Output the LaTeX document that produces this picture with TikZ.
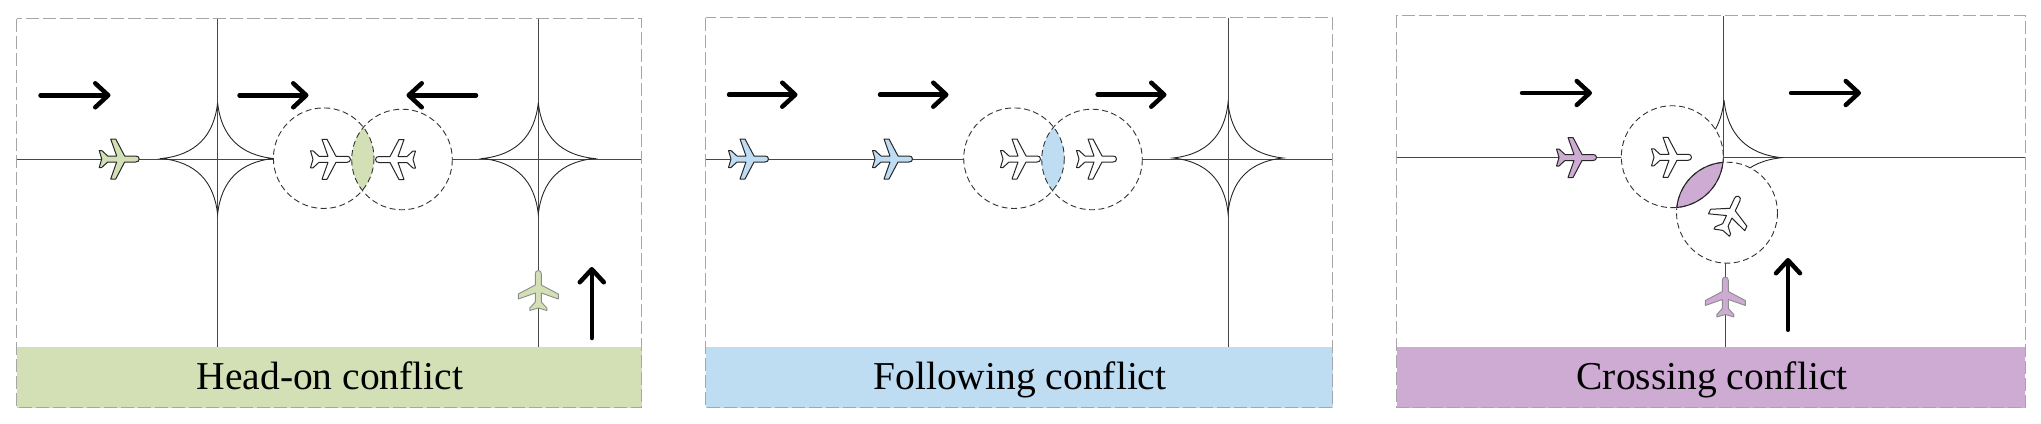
\documentclass[tikz,border=0pt]{standalone}
\usepackage{fontspec}
\setmainfont{Liberation Serif}
\usetikzlibrary{arrows.meta}
\definecolor{conflictgreen}{RGB}{211,224,181}
\definecolor{conflictblue}{RGB}{191,221,242}
\definecolor{conflictpurple}{RGB}{205,171,211}
\tikzset{
  panelbox/.style={draw=black!35, line width=1.2pt, dash pattern=on 13pt off 4pt},
  taxiway/.style={draw=black!72, line width=1pt},
  zone/.style={draw=black!80, line width=.9pt, dash pattern=on 6pt off 3.5pt},
  heading/.style={-{Straight Barb[length=13pt,width=24pt,round]}, line width=4.5pt, line cap=round},
  caption/.style={font=\fontsize{39.5}{46}\selectfont, anchor=base},
  dark/.style={draw=black!85, line width=1pt},
  pale/.style={draw=black!45, line width=.9pt},
  crossing/.pic={
    \draw[black!85, line width=.9pt]
      (0,-55) .. controls (3.5,-22) and (22,-3.5) .. (55,0)
      .. controls (22,3.5) and (3.5,22) .. (0,55)
      .. controls (-3.5,22) and (-22,3.5) .. (-55,0)
      .. controls (-22,-3.5) and (-3.5,-22) .. cycle;
  },
  airplane/.pic={
    \path[pic actions, line join=round]
      (20.5,0) .. controls (20.5,-2) and (19,-3) .. (17,-3) -- (6,-3) -- (-3,-20) -- (-8,-20)
      -- (-2,-3) -- (-11,-3) -- (-17,-8.5) -- (-19.5,-8.5) -- (-17,0)
      -- (-19.5,8.5) -- (-17,8.5) -- (-11,3) -- (-2,3) -- (-8,20) -- (-3,20) -- (6,3) -- (17,3)
      .. controls (19,3) and (20.5,2) .. cycle;
  },
}
\begin{document}
\begin{tikzpicture}[x=1pt, y=-1pt]
  \useasboundingbox (0,0) rectangle (2041,423);

  % head-on
  \draw[taxiway] (16.5,159.5) -- (641.5,159.5);
  \draw[taxiway] (217.6,18.5) -- (217.6,347);
  \draw[taxiway] (538.3,18.5) -- (538.3,347);
  \pic[scale=1.015] at (217.6,158.5) {crossing};
  \pic[scale=1.015] at (538.3,158.5) {crossing};
  \coordinate (hA) at (323.7,158.2);
  \coordinate (hB) at (402,159.5);
  \fill[white] (hA) circle[radius=50.3] (hB) circle[radius=50.3];
  \begin{scope}
    \clip (hA) circle[radius=50.3];
    \fill[conflictgreen] (hB) circle[radius=50.3];
  \end{scope}
  \draw[zone] (hA) circle[radius=50.3];
  \draw[zone] (hB) circle[radius=50.3];
  \pic[fill=conflictgreen, dark] at (118.7,159) {airplane};
  \pic[fill=conflictgreen, pale, rotate=90] at (538.3,291) {airplane};
  \pic[fill=white, dark] at (330,159.3) {airplane};
  \pic[fill=white, dark, rotate=180] at (396,159.5) {airplane};
  \draw[heading] (40.5,95.3) -- (110.5,95.3);
  \draw[heading] (239.5,95.3) -- (308.5,95.3);
  \draw[heading] (476,95.3) -- (406.5,95.3);
  \draw[heading] (591.8,338) -- (591.8,267);
  \fill[conflictgreen] (16.5,347) rectangle (641.5,407.5);
  \draw[panelbox] (16.5,18.5) rectangle (641.5,407.5);
  \node[caption] (headon) at (330,389) {Head-on conflict};

  % following
  \draw[taxiway] (705.6,159.3) -- (1332,159.3);
  \draw[taxiway] (1228,18) -- (1228,347);
  \pic at (1228,158) {crossing};
  \coordinate (fA) at (1014,158.2);
  \coordinate (fB) at (1092,159.5);
  \fill[white] (fA) circle[radius=50.3] (fB) circle[radius=50.3];
  \begin{scope}
    \clip (fA) circle[radius=50.3];
    \fill[conflictblue] (fB) circle[radius=50.3];
  \end{scope}
  \draw[zone] (fA) circle[radius=50.3];
  \draw[zone] (fB) circle[radius=50.3];
  \pic[fill=conflictblue, dark] at (748,159) {airplane};
  \pic[fill=conflictblue, dark] at (892,159) {airplane};
  \pic[fill=white, dark] at (1020,159) {airplane};
  \pic[fill=white, dark] at (1096,159) {airplane};
  \draw[heading] (729,94.7) -- (797.5,94.7);
  \draw[heading] (880,94.7) -- (948.5,94.7);
  \draw[heading] (1097.6,94.7) -- (1166.5,94.7);
  \fill[conflictblue] (705.6,347.3) rectangle (1332.6,407.5);
  \draw[panelbox] (705.6,17.7) rectangle (1332.6,407.5);
  \node[caption] (following) at (1020,389) {Following conflict};

  % crossing
  \draw[taxiway] (1396.8,157.3) -- (2025.2,157.3);
  \draw[taxiway] (1723.6,15.5) -- (1723.6,163);
  \draw[taxiway] (1725.3,262) -- (1725.3,347);
  \pic[scale=1.045] at (1724,157.7) {crossing};
  \coordinate (cA) at (1672.3,156.7);
  \coordinate (cB) at (1727,212.7);
  \fill[white] (cA) circle[radius=51] (cB) circle[radius=50.5];
  \begin{scope}
    \clip (cA) circle[radius=51];
    \fill[conflictpurple] (cB) circle[radius=50.5];
  \end{scope}
  \draw[zone] (cA) circle[radius=51];
  \draw[zone] (cB) circle[radius=50.5];
  \begin{scope}
    \clip (cA) circle[radius=51];
    \draw[black!85, line width=1pt] (cB) circle[radius=50.5];
  \end{scope}
  \begin{scope}
    \clip (cB) circle[radius=50.5];
    \draw[black!85, line width=1pt] (cA) circle[radius=51];
  \end{scope}
  \pic[fill=conflictpurple, dark] at (1576,157.5) {airplane};
  \pic[fill=conflictpurple, pale, rotate=90] at (1725.3,297.5) {airplane};
  \pic[fill=white, dark] at (1671,157.3) {airplane};
  \pic[fill=white, dark, rotate=65] at (1730,215) {airplane};
  \draw[heading] (1522,93) -- (1592,93);
  \draw[heading] (1791,93) -- (1861,93);
  \draw[heading] (1788,329.8) -- (1788,258);
  \fill[conflictpurple] (1396.8,347) rectangle (2025.2,407.5);
  \draw[panelbox] (1396.8,15.3) rectangle (2025.2,407.5);
  \node[caption] (crossingtext) at (1712,389) {Crossing conflict};
\end{tikzpicture}
\end{document}
